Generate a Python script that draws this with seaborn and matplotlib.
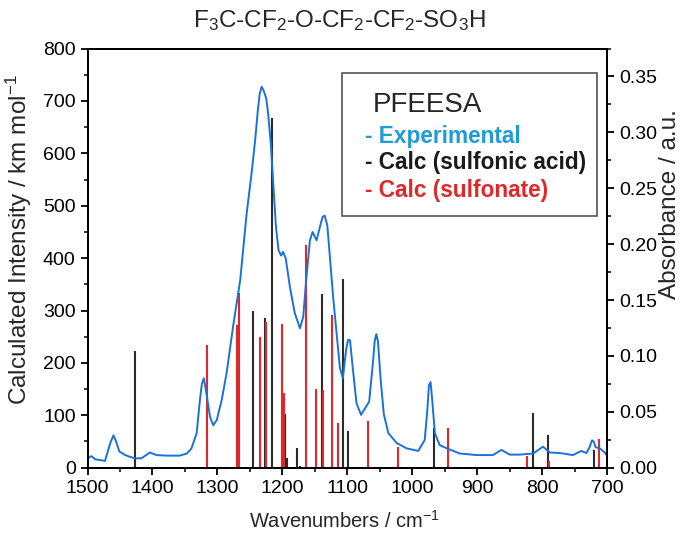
import matplotlib
matplotlib.use('Agg')
import matplotlib.pyplot as plt
import seaborn as sns
from matplotlib.patches import Rectangle
from matplotlib.ticker import MultipleLocator

# experimental spectrum (absorbance, right axis)
exp_wn = [1500, 1494, 1488, 1473, 1465, 1460, 1456, 1451, 1442, 1435, 1427, 1417, 1404, 1394,
          1378, 1358, 1347, 1340, 1332, 1327, 1324, 1321, 1317, 1311.5, 1306.5, 1301, 1293.5, 1286,
          1276, 1265, 1255, 1247.5, 1242, 1238, 1235, 1232, 1229, 1225, 1222, 1218, 1214, 1210,
          1206, 1202, 1199, 1195, 1188.5, 1181, 1173, 1168, 1163, 1157.7, 1153.6, 1147.5, 1141,
          1138, 1135, 1131, 1127, 1122, 1116.6, 1111.5, 1107, 1102, 1099, 1096, 1092, 1086, 1079,
          1073, 1066.5, 1060.3, 1058, 1055.5, 1053, 1049, 1044, 1037, 1024, 1009, 991, 981, 977,
          974.5, 972, 969.5, 965.4, 958, 947, 927, 901, 876, 863, 850, 835, 814, 799, 788.5, 773,
          753, 740, 732, 727, 723.5, 721, 718, 711.5, 704, 700]
exp_abs = [0.0084, 0.0103, 0.0075, 0.0061, 0.022, 0.029, 0.0234, 0.0145, 0.0113, 0.0098, 0.0084,
           0.0084, 0.0136, 0.0113, 0.0108, 0.0108, 0.0127, 0.0173, 0.0309, 0.0605, 0.075, 0.08,
           0.0666, 0.0455, 0.038, 0.0427, 0.0605, 0.0844, 0.1261, 0.1678, 0.2278, 0.2634, 0.293,
           0.3188, 0.3345, 0.3408, 0.3375, 0.3305, 0.3169, 0.2906, 0.2531, 0.2156, 0.1945, 0.1898,
           0.1931, 0.1875, 0.1617, 0.1383, 0.1247, 0.135, 0.1711, 0.2034, 0.2109, 0.2034, 0.2184,
           0.2245, 0.2255, 0.217, 0.1889, 0.1528, 0.12, 0.0891, 0.0802, 0.1055, 0.1145, 0.1140,
           0.0905, 0.0577, 0.0473, 0.053, 0.0591, 0.0966, 0.1135, 0.1195, 0.1130, 0.0800, 0.0480,
           0.0309, 0.022, 0.0173, 0.015, 0.0248, 0.0516, 0.0740, 0.0765, 0.0605, 0.0309, 0.0202,
           0.0173, 0.0127, 0.0113, 0.0113, 0.0159, 0.0117, 0.0117, 0.0127, 0.0188, 0.0136, 0.0131,
           0.0113, 0.015, 0.0131, 0.0188, 0.0245, 0.0235, 0.0183, 0.0173, 0.0136, 0.0103]

# calculated sticks (km/mol, left axis)
acid_wn = [1427, 1246, 1226.5, 1216.5, 1196, 1193.5, 1177, 1173, 1139, 1107.5, 1099, 966, 815, 791, 720]
acid_int = [222, 300, 285, 668, 102, 18, 37, 3, 331, 361, 70, 75, 105, 62, 34]

sulf_wn = [1316, 1270, 1267.5, 1234, 1225, 1200, 1198, 1163, 1149, 1137, 1123.5, 1114, 1069, 1022,
           945, 823, 790.5, 713]
sulf_int = [234, 272, 333, 249, 279, 275, 143, 425, 150, 149, 291, 85, 89, 40, 75, 22, 12, 55]

sns.set_theme(style='ticks')
plt.rcParams['font.family'] = ['Liberation Sans', 'DejaVu Sans']
plt.rcParams['mathtext.default'] = 'regular'

fig = plt.figure(figsize=(6.81, 5.35), dpi=100)
ax = fig.add_axes([0.1285, 0.1258, 0.7633, 0.7835])

ax.vlines(acid_wn, 0, acid_int, color='#2b2b2b', lw=1.5)
ax.vlines(sulf_wn, 0, sulf_int, color='#e0282a', lw=1.5)
ax.set_xlim(1500, 700)
ax.set_ylim(0, 800)

ax2 = ax.twinx()
sns.lineplot(x=exp_wn, y=exp_abs, ax=ax2, color='#1a72d9', lw=1.4, legend=False)
ax2.set_ylim(0, 0.375)
ax2.set_xlim(1500, 700)

ax.xaxis.set_major_locator(MultipleLocator(100))
ax.xaxis.set_minor_locator(MultipleLocator(50))
ax.yaxis.set_major_locator(MultipleLocator(100))
ax.yaxis.set_minor_locator(MultipleLocator(50))
ax2.yaxis.set_major_locator(MultipleLocator(0.05))
ax2.yaxis.set_minor_locator(MultipleLocator(0.025))

for a in (ax, ax2):
    a.tick_params(which='major', length=5, width=1.3, labelsize=14, color='black', labelcolor='black')
    a.tick_params(which='minor', length=3, width=1.1, color='black')
    for s in a.spines.values():
        s.set_linewidth(1.4)
        s.set_color('black')
ax.tick_params(axis='x', which='both', bottom=True, top=False)
ax.tick_params(axis='y', which='both', left=True, right=False)
ax2.tick_params(axis='y', which='both', right=True, left=False)

ax.set_xlabel('Wavenumbers / cm$^{-1}$', fontsize=14.5)
ax.set_ylabel('Calculated Intensity / km mol$^{-1}$', fontsize=17.5)
ax2.set_ylabel('Absorbance / a.u.', fontsize=17.5)
ax.xaxis.set_label_coords(0.495, -0.1)
ax.yaxis.set_label_coords(-0.103, 0.543)
ax2.yaxis.set_label_coords(1.099, 0.63)

fig.text(0.499, 0.962, 'F$_3$C-CF$_2$-O-CF$_2$-CF$_2$-SO$_3$H', ha='center', va='center', fontsize=17.5)

# legend box
ax2.add_patch(Rectangle((0.489, 0.6004), 0.4906, 0.3404, transform=ax2.transAxes,
                        fill=False, edgecolor='#555555', lw=1.2))
ax2.text(0.549, 0.849, 'PFEESA', transform=ax2.transAxes, fontsize=20, va='baseline')
ax2.text(0.534, 0.774, '- Experimental', transform=ax2.transAxes, fontsize=16.3,
         fontweight='bold', color='#1f9bd7', va='baseline')
ax2.text(0.534, 0.712, '- Calc (sulfonic acid)', transform=ax2.transAxes, fontsize=16.3,
         fontweight='bold', color='#1a1a1a', va='baseline')
ax2.text(0.534, 0.6465, '- Calc (sulfonate)', transform=ax2.transAxes, fontsize=16.3,
         fontweight='bold', color='#e0282a', va='baseline')

fig.savefig('out.png', dpi=100)
